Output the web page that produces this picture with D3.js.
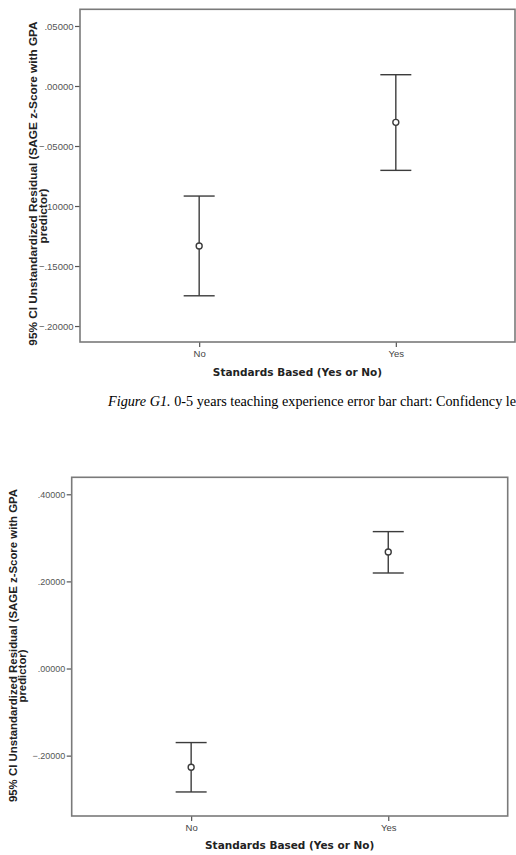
<!DOCTYPE html>
<html>
<head>
<meta charset="utf-8">
<script src="https://cdn.jsdelivr.net/npm/d3@7"></script>
<style>
  body { margin: 0; background: #fff; }
  svg { display: block; }
</style>
</head>
<body>
<div id="chart"></div>
<script>
// categories on the x axis
const categories = ["No", "Yes"];

// Figure G1: 0-5 years teaching experience
const g1Mean  = [-0.1333, -0.0303];
const g1Lower = [-0.1748, -0.0703];
const g1Upper = [-0.0917, 0.0094];
const g1Ticks = [0.05, 0, -0.05, -0.10, -0.15, -0.20];

// second figure
const g2Mean  = [-0.2267, 0.2676];
const g2Lower = [-0.2834, 0.2193];
const g2Upper = [-0.1700, 0.3143];
const g2Ticks = [0.40, 0.20, 0, -0.20];

const yTitle = ["95% CI Unstandardized Residual (SAGE z-Score with GPA", "predictor)"];
const xTitle = "Standards Based (Yes or No)";
// the page cuts the caption off at the right edge, only this much is visible
const caption = ["Figure G1.", " 0-5 years teaching experience error bar chart: Confidency le"];

const width = 516;
const height = 855;

const svg = d3.select("#chart")
    .append("svg")
    .attr("width", width)
    .attr("height", height);

// SPSS style labels: .05000, -.05000
function spssFormat(v) {
    return d3.format(".5f")(v).replace("0.", ".");
}

function drawChart(opts) {
    const { left, top, right, bottom, domain, ticks, mean, lower, upper } = opts;

    const x = d3.scalePoint()
        .domain(categories)
        .range([left, right])
        .padding(0.606);

    const y = d3.scaleLinear()
        .domain(domain)
        .range([bottom, top]);

    const g = svg.append("g");

    // y axis ticks + labels
    const yAxis = g.append("g")
        .attr("transform", `translate(${left},0)`)
        .call(d3.axisLeft(y).tickValues(ticks).tickFormat(spssFormat).tickSize(5).tickPadding(1.5));
    yAxis.select(".domain").remove();
    yAxis.selectAll(".tick line").attr("stroke", "#555").attr("stroke-width", 1.2);
    yAxis.selectAll(".tick text")
        .attr("fill", "#555")
        .style("font-family", "'Liberation Sans', Arial, sans-serif")
        .style("font-size", opts.tickSize + "px");

    // x axis ticks + labels
    const xAxis = g.append("g")
        .attr("transform", `translate(0,${bottom})`)
        .call(d3.axisBottom(x).tickSize(5).tickPadding(3));
    xAxis.select(".domain").remove();
    xAxis.selectAll(".tick line").attr("stroke", "#555").attr("stroke-width", 1.2);
    xAxis.selectAll(".tick text")
        .attr("fill", "#444")
        .style("font-family", "'Liberation Sans', Arial, sans-serif")
        .style("font-size", "9.5px");

    // frame
    g.append("rect")
        .attr("x", left)
        .attr("y", top)
        .attr("width", right - left)
        .attr("height", bottom - top)
        .attr("fill", "none")
        .attr("stroke", "#7a7a7a")
        .attr("stroke-width", 1.6);

    const rows = categories.map((c, i) => ({ cat: c, mean: mean[i], lo: lower[i], hi: upper[i] }));
    const cap = 15.5;

    const bars = g.selectAll(".err")
        .data(rows)
        .join("g")
        .attr("class", "err")
        .attr("stroke", "#3c3c3c")
        .attr("stroke-width", 1.4)
        .attr("fill", "none");

    bars.append("line")
        .attr("x1", d => x(d.cat)).attr("x2", d => x(d.cat))
        .attr("y1", d => y(d.hi)).attr("y2", d => y(d.lo));
    bars.append("line")
        .attr("x1", d => x(d.cat) - cap).attr("x2", d => x(d.cat) + cap)
        .attr("y1", d => y(d.hi)).attr("y2", d => y(d.hi));
    bars.append("line")
        .attr("x1", d => x(d.cat) - cap).attr("x2", d => x(d.cat) + cap)
        .attr("y1", d => y(d.lo)).attr("y2", d => y(d.lo));
    bars.append("circle")
        .attr("cx", d => x(d.cat))
        .attr("cy", d => y(d.mean))
        .attr("r", 3)
        .attr("fill", "#fff");

    // x title
    g.append("text")
        .attr("x", (left + right) / 2)
        .attr("y", opts.xTitleY)
        .attr("text-anchor", "middle")
        .attr("fill", "#222")
        .style("font-family", "'DejaVu Sans', Verdana, sans-serif")
        .style("font-weight", "bold")
        .style("font-size", "10.5px")
        .text(xTitle);

    // y title, two rotated lines
    yTitle.forEach((line, i) => {
        g.append("text")
            .attr("transform", `translate(${opts.yTitleX[i]},${opts.yTitleCy[i]}) rotate(-90)`)
            .attr("text-anchor", "middle")
            .attr("fill", "#222")
            .style("font-family", "'Liberation Sans', Arial, sans-serif")
            .style("font-weight", "bold")
            .style("font-size", opts.yTitleSize + "px")
            .text(line);
    });
}

drawChart({
    left: 80, top: 9.3, right: 515, bottom: 342,
    domain: [-0.2133, 0.0639],
    ticks: g1Ticks, mean: g1Mean, lower: g1Lower, upper: g1Upper,
    tickSize: 9.5,
    xTitleY: 376,
    yTitleX: [37, 46.5], yTitleCy: [183.5, 216], yTitleSize: 11.8
});

drawChart({
    left: 71.7, top: 477.3, right: 507.7, bottom: 816,
    domain: [-0.3386, 0.439],
    ticks: g2Ticks, mean: g2Mean, lower: g2Lower, upper: g2Upper,
    tickSize: 9,
    xTitleY: 849,
    yTitleX: [16.5, 26], yTitleCy: [645.5, 676], yTitleSize: 11.4
});

// caption under the first chart, sized so it runs from x=108 to the page edge
const cap = svg.append("text")
    .attr("x", 108)
    .attr("y", 406)
    .attr("fill", "#000")
    .style("font-family", "'Liberation Serif', 'Times New Roman', serif")
    .style("font-size", "15px");
cap.append("tspan").style("font-style", "italic").text(caption[0]);
cap.append("tspan").text(caption[1]);
const capW = cap.node().getComputedTextLength();
const capSize = 15 * (width - 108) / capW;
cap.style("font-size", capSize.toFixed(2) + "px");
</script>
</body>
</html>
